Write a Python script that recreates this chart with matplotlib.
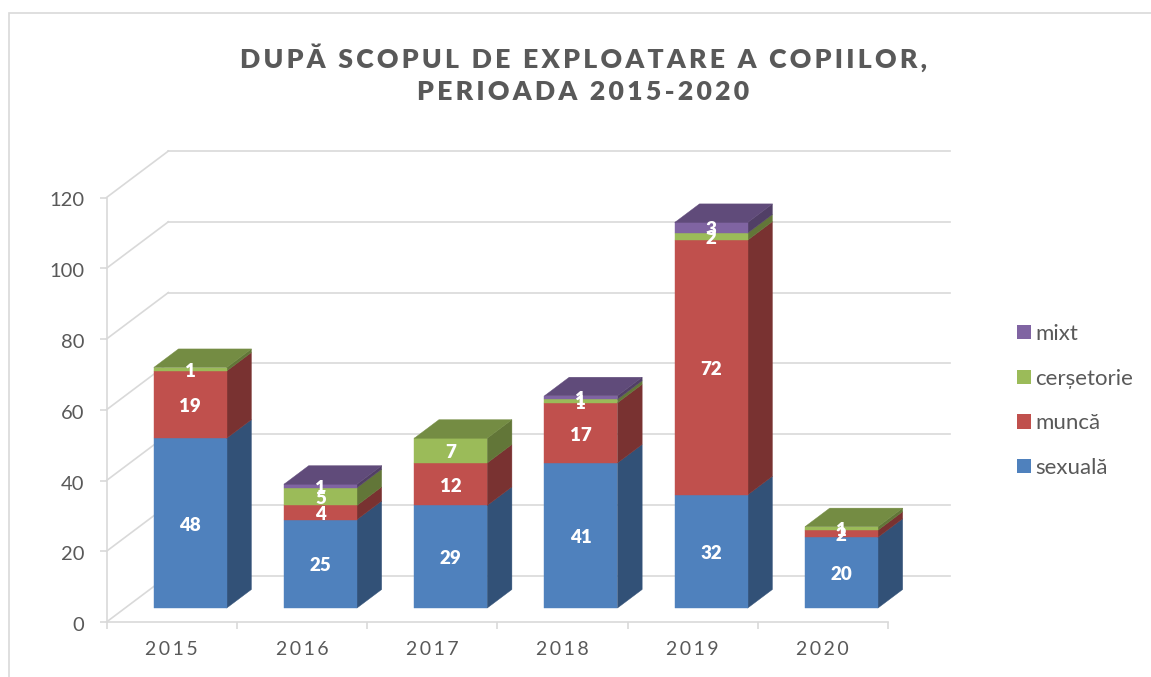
import matplotlib
matplotlib.use("Agg")
import matplotlib.pyplot as plt
from matplotlib.colors import to_rgb
from matplotlib.patches import Patch, Rectangle
from matplotlib.transforms import ScaledTranslation

plt.rcParams['font.family'] = ['Lato', 'DejaVu Sans']

years = ['2015', '2016', '2017', '2018', '2019', '2020']
sexuala = [48, 25, 29, 41, 32, 20]
munca = [19, 4, 12, 17, 72, 2]
cersetorie = [1, 5, 7, 1, 2, 1]
mixt = [0, 1, 0, 1, 3, 0]

series_names = ['sexuală', 'muncă', 'cerșetorie', 'mixt']
series_colors = ['#4F81BD', '#C0504D', '#9BBB59', '#8064A2']
y_ticks = [0, 20, 40, 60, 80, 100, 120]

title_lines = ['DUPĂ SCOPUL DE EXPLOATARE A COPIILOR,', 'PERIOADA 2015-2020']

W, H = 1151, 677
GRID = '#D9D9D9'
TEXT = '#595959'

# how far the back wall sits behind the front plane, in data units
wall_dx = 0.475
wall_dy = 13.13
bar_width = 0.56
bar_front = 0.3
bar_back = 0.7


def spaced(s, gap):
    return gap.join(s)


def shade(color, f):
    return tuple(c * f for c in to_rgb(color))


def proj(x, y, d):
    return x + d * wall_dx, y + d * wall_dy


def face(ax, pts, color, z):
    xs = [p[0] for p in pts]
    ys = [p[1] for p in pts]
    ax.fill(xs, ys, facecolor=color, edgecolor=color, linewidth=0.3, zorder=z, clip_on=False)


fig = plt.figure(figsize=(W / 100, H / 100), dpi=100)
ax = fig.add_axes([106.5 / W, 1 - 622 / H, (888 - 106.5) / W, (622 - 197.5) / H])
ax.set_xlim(0, len(years))
ax.set_ylim(0, 120)
ax.patch.set_alpha(0)

# chart frame
fig.add_artist(Rectangle((9 / W, -0.01), 1.1, 1 - 13 / H + 0.01, transform=fig.transFigure,
                         facecolor='none', edgecolor=GRID, linewidth=1.2))

# back wall grid and the diagonals down the side wall
n = len(years)
for t in y_ticks:
    bx, by = proj(0, t, 1)
    ex, ey = proj(n, t, 1)
    ax.plot([bx, ex], [by, ey], color=GRID, lw=1.2, zorder=1, clip_on=False)
    ax.plot([0, bx], [t, by], color=GRID, lw=1.2, zorder=1, clip_on=False)

# stacked 3d bars, painted from left to right
stacks = [sexuala, munca, cersetorie, mixt]
for i in range(n):
    left = i + 0.5 - bar_width / 2
    right = left + bar_width
    base = 0
    last_color = None
    for vals, col in zip(stacks, series_colors):
        v = vals[i]
        if v == 0:
            continue
        top = base + v
        z = 3 + i
        f0 = proj(left, base, bar_front)
        f1 = proj(right, base, bar_front)
        f2 = proj(right, top, bar_front)
        f3 = proj(left, top, bar_front)
        # side, then front
        s0 = proj(right, base, bar_back)
        s1 = proj(right, top, bar_back)
        face(ax, [f1, s0, s1, f2], shade(col, 0.63), z)
        face(ax, [f0, f1, f2, f3], col, z)
        base = top
        last_color = col
    # roof takes the colour of the highest segment
    r0 = proj(left, base, bar_front)
    r1 = proj(right, base, bar_front)
    r2 = proj(right, base, bar_back)
    r3 = proj(left, base, bar_back)
    face(ax, [r0, r1, r2, r3], shade(last_color, 0.75), 3 + i)

    # labels go on top of everything
    base = 0
    for vals in stacks:
        v = vals[i]
        if v == 0:
            continue
        cx, cy = proj((left + right) / 2, base + v / 2, bar_front)
        ax.annotate(str(v), (cx, cy), xytext=(0, -1.5), textcoords='offset points', color='white',
                    fontsize=13.5, fontweight='heavy', ha='center', va='center', zorder=20,
                    annotation_clip=False)
        base += v

for s in ['top', 'right']:
    ax.spines[s].set_visible(False)
for s in ['left', 'bottom']:
    ax.spines[s].set_color(GRID)
    ax.spines[s].set_linewidth(1.2)
    ax.spines[s].set_zorder(2)

ax.set_yticks(y_ticks)
ax.tick_params(axis='y', length=5, width=1.2, color=GRID, labelcolor=TEXT, labelsize=14.5, pad=11)
for label in ax.get_yticklabels():
    label.set_transform(label.get_transform() + ScaledTranslation(0, -2 / 100, fig.dpi_scale_trans))
ax.set_xticks(range(n + 1))
ax.set_xticklabels([])
ax.tick_params(axis='x', which='major', length=5, width=1.2, color=GRID)
ax.set_xticks([i + 0.5 for i in range(n)], minor=True)
ax.set_xticklabels([spaced(y, '\u2009') for y in years], minor=True)
ax.tick_params(axis='x', which='minor', length=0, labelcolor=TEXT, labelsize=14, pad=14)

fig.text(583 / W, 1 - 74 / H, '\n'.join(spaced(l, '\u200a\u200a') for l in title_lines), color=TEXT,
         fontsize=19.2, fontweight='heavy', ha='center', va='center', linespacing=1.4)

handles = [Patch(facecolor=c, label=l) for c, l in zip(series_colors, series_names)][::-1]
fig.legend(handles=handles, loc='center left', bbox_to_anchor=(1017 / W, 1 - 401 / H),
           frameon=False, fontsize=16, labelcolor=TEXT, handlelength=0.63, handleheight=0.63,
           handletextpad=0.2, labelspacing=1.11, borderpad=0, borderaxespad=0)

fig.savefig('out.png', dpi=100)
